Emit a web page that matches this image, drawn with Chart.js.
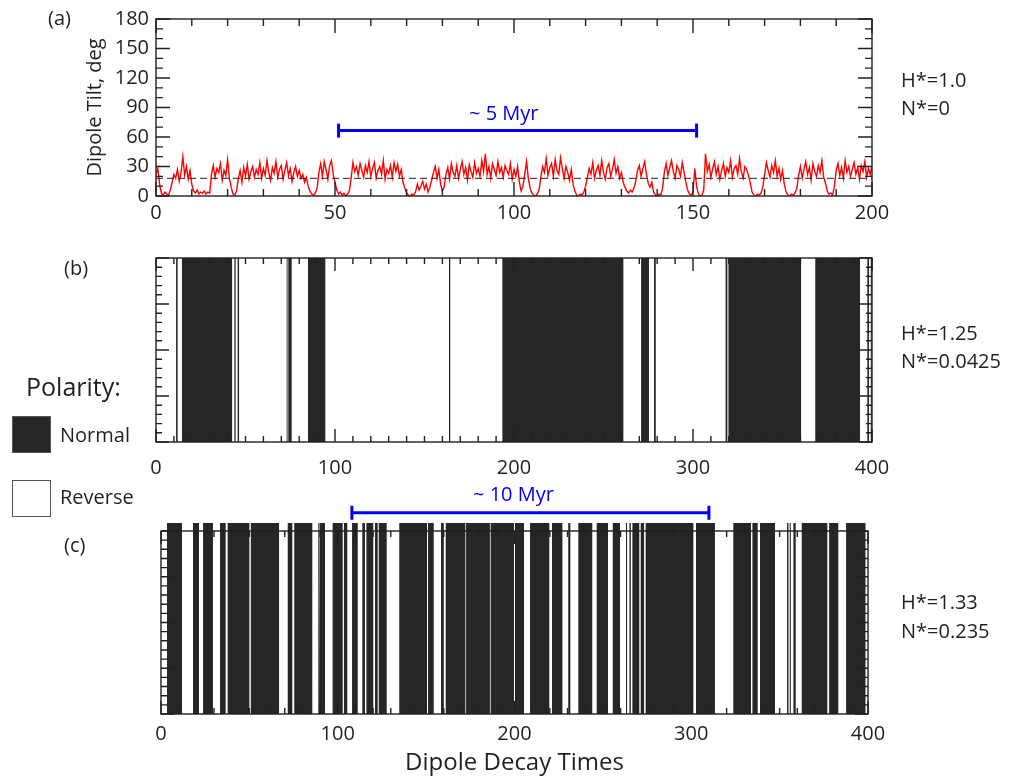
<!DOCTYPE html>
<html>
<head>
<meta charset="utf-8">
<script src="https://cdn.jsdelivr.net/npm/chart.js@4.4.1/dist/chart.umd.min.js"></script>
<style>
  body { margin: 0; background: #fff; }
  #fig { position: relative; width: 1013px; height: 782px; font-family: 'Open Sans', sans-serif; color: #231f20; overflow: hidden; }
  #fig canvas { position: absolute; left: 0; }
  .lbl { position: absolute; white-space: nowrap; line-height: 1; transform: translateY(-50%); }
  .swatch { position: absolute; width: 37px; height: 35px; border: 1px solid #555; }
</style>
</head>
<body>
<div id="fig">
  <canvas id="tiltChart" width="1013" height="235" style="top:0"></canvas>
  <canvas id="polarityB" width="1013" height="245" style="top:235px"></canvas>
  <canvas id="polarityC" width="1013" height="302" style="top:480px"></canvas>

  <div class="lbl" style="left:48px; top:18px; font-size:20px">(a)</div>
  <div class="lbl" style="left:64px; top:268px; font-size:20px">(b)</div>
  <div class="lbl" style="left:64px; top:545px; font-size:20px">(c)</div>

  <div class="lbl" style="left:901px; top:80px; font-size:20px">H*=1.0</div>
  <div class="lbl" style="left:901px; top:108px; font-size:20px">N*=0</div>
  <div class="lbl" style="left:901px; top:333px; font-size:20px">H*=1.25</div>
  <div class="lbl" style="left:901px; top:361px; font-size:20px">N*=0.0425</div>
  <div class="lbl" style="left:901px; top:602px; font-size:20px">H*=1.33</div>
  <div class="lbl" style="left:901px; top:631px; font-size:20px">N*=0.235</div>

  <div class="lbl" style="left:26px; top:386px; font-size:25px">Polarity:</div>
  <div class="swatch" style="left:12px; top:416px; background:#262626"></div>
  <div class="lbl" style="left:60px; top:435px; font-size:20px">Normal</div>
  <div class="swatch" style="left:12px; top:480px; background:#fff"></div>
  <div class="lbl" style="left:60px; top:497px; font-size:20px">Reverse</div>

  <div class="lbl" style="left:469px; top:113px; font-size:20px; color:#0000f0">~ 5 Myr</div>
  <div class="lbl" style="left:473px; top:494px; font-size:20px; color:#0000f0">~ 10 Myr</div>
</div>

<script>
// (a) dipole tilt, sampled every half decay time from 0 to 200
const tiltStep = 0.5;
const tiltValues = [
  22, 28, 12, 3, 1, 4, 2, 1, 6, 14, 22, 18, 27, 15, 24, 40, 21, 30, 17, 26,
  12, 5, 3, 6, 2, 4, 3, 5, 2, 4, 3, 22, 31, 19, 28, 24, 33, 16, 26, 21,
  37, 18, 9, 2, 1, 5, 18, 26, 14, 29, 20, 32, 17, 25, 30, 19, 27, 22, 34, 18,
  28, 21, 36, 24, 16, 29, 23, 35, 19, 27, 31, 17, 26, 34, 21, 28, 15, 24, 30, 20,
  26, 18, 22, 14, 19, 10, 5, 2, 1, 3, 8, 24, 33, 20, 35, 27, 17, 31, 36, 22,
  14, 6, 2, 4, 1, 3, 0, 2, 5, 18, 34, 25, 30, 21, 33, 26, 19, 31, 24, 35,
  20, 28, 34, 18, 26, 30, 22, 36, 17, 27, 23, 31, 19, 34, 25, 32, 20, 27, 14, 8,
  3, 1, 0, 2, 1, 4, 12, 6, 10, 15, 7, 12, 4, 9, 16, 24, 30, 18, 27, 12,
  5, 9, 22, 29, 17, 33, 24, 20, 31, 18, 27, 35, 22, 29, 16, 32, 25, 19, 34, 23,
  28, 20, 36, 25, 43, 22, 30, 18, 33, 27, 21, 35, 24, 29, 19, 31, 26, 22, 33, 17,
  27, 20, 30, 14, 5, 10, 22, 35, 18, 8, 3, 1, 0, 2, 6, 19, 30, 24, 38, 21,
  29, 33, 20, 37, 26, 22, 39, 28, 18, 30, 24, 16, 27, 12, 5, 1, 0, 2, 1, 4,
  10, 19, 28, 22, 34, 18, 26, 31, 21, 36, 24, 17, 29, 33, 20, 27, 37, 23, 30, 18,
  24, 14, 9, 5, 3, 6, 4, 8, 15, 26, 31, 20, 28, 35, 22, 13, 9, 14, 4, 1,
  0, 2, 1, 8, 24, 33, 21, 29, 36, 25, 18, 31, 27, 20, 34, 24, 14, 6, 2, 1,
  4, 28, 10, 2, 0, 1, 6, 43, 25, 32, 19, 28, 35, 22, 30, 17, 26, 33, 20, 29,
  24, 36, 19, 28, 31, 22, 38, 25, 18, 30, 27, 21, 13, 4, 1, 0, 2, 1, 3, 9,
  22, 34, 26, 19, 31, 24, 36, 20, 28, 17, 26, 12, 4, 1, 0, 2, 1, 3, 8, 21,
  30, 18, 27, 35, 22, 29, 16, 33, 25, 20, 31, 24, 36, 19, 13, 5, 2, 3, 1, 10,
  26, 33, 21, 29, 18, 36, 24, 30, 20, 27, 34, 22, 29, 17, 31, 25, 35, 19, 28, 22, 30
];
const tiltMean = 18;
const tiltTicksX = [0, 50, 100, 150, 200];
const tiltTicksY = [0, 30, 60, 90, 120, 150, 180];
const spanA = [51, 151];   // ~5 Myr
const spanALevel = 66.5;

// (b), (c) normal polarity intervals, in dipole decay times
const polarityB = [
  [11.2, 12.1], [14.5, 42.5], [43.8, 44.5], [45.6, 46.4], [73.0, 73.5], [73.9, 75.8],
  [84.9, 94.6], [163.7, 164.4], [193.5, 261.1], [271.0, 275.4], [278.2, 279.2],
  [318.2, 319.2], [319.8, 360.4], [367.6, 368.0], [368.3, 393.3], [397.4, 398.3], [399.3, 399.9]
];
const polarityC = [
  [3.4, 11.9], [18.1, 21.5], [23.8, 29.4], [33.4, 36.6], [37.7, 50.0], [50.8, 66.8],
  [71.7, 74.3], [75.4, 85.6], [89.0, 89.4], [89.8, 92.8], [97.1, 102.8], [103.5, 105.4],
  [108.1, 111.3], [113.9, 115.4], [116.2, 120.1], [121.1, 122.6], [123.2, 127.7],
  [134.8, 150.5], [151.1, 154.3], [158.4, 160.0], [161.1, 172.2], [172.6, 186.1],
  [186.5, 199.7], [200.3, 205.4], [208.8, 219.7], [221.2, 227.1], [230.4, 231.6],
  [236.1, 244.0], [246.5, 252.9], [255.6, 259.7], [263.1, 263.7], [265.0, 265.8],
  [266.7, 270.6], [271.4, 273.3], [274.2, 301.2], [302.7, 313.4], [323.8, 333.8],
  [334.6, 337.6], [338.9, 347.4], [354.2, 355.0], [355.7, 356.3], [357.8, 359.1],
  [362.5, 377.0], [378.0, 383.2], [387.6, 398.7]
];
const polarityTicksX = [0, 100, 200, 300, 400];
const barTopC = 1.044;      // bars in (c) poke out above the frame
const spanC = [108, 310];   // ~10 Myr
const spanCLevel = 1.1;

const ink = '#231f20';
const barColor = '#262626';
const blue = '#0000f0';

Chart.defaults.font.family = "'Open Sans', sans-serif";
Chart.defaults.color = ink;

// IDL style box: frame on all four sides, ticks pointing inward
const frameTicks = {
  id: 'frameTicks',
  afterDatasetsDraw(chart, args, o) {
    const { ctx, chartArea: a, scales: { x, y } } = chart;
    const top = o.frameTop != null ? y.getPixelForValue(o.frameTop) : a.top;
    const bottom = y.getPixelForValue(0);
    const isMajor = (v, step) => Math.abs(v / step - Math.round(v / step)) < 1e-6;

    ctx.save();
    ctx.strokeStyle = ink;
    ctx.lineWidth = 1.4;
    ctx.beginPath();
    const nx = Math.round((x.max - x.min) / o.xMinor);
    for (let k = 0; k <= nx; k++) {
      const v = x.min + k * o.xMinor;
      const px = x.getPixelForValue(v);
      const len = isMajor(v, o.xMajor) ? o.majorLen : o.minorLen;
      ctx.moveTo(px, bottom); ctx.lineTo(px, bottom - len);
      ctx.moveTo(px, top); ctx.lineTo(px, top + len);
    }
    const ny = Math.round(o.yTop / o.yMinor);
    for (let k = 0; k <= ny; k++) {
      const v = k * o.yMinor;
      const py = y.getPixelForValue(v);
      const len = isMajor(v, o.yMajor) ? o.majorLen : o.minorLen;
      ctx.moveTo(a.left, py); ctx.lineTo(a.left + len, py);
      ctx.moveTo(a.right, py); ctx.lineTo(a.right - len, py);
    }
    ctx.stroke();
    ctx.strokeRect(a.left, top, a.right - a.left, bottom - top);
    ctx.restore();
  }
};

function polarityPoints(intervals, top) {
  const pts = [];
  intervals.forEach(([a, b]) => {
    pts.push({ x: a, y: 0 }, { x: a, y: top }, { x: b, y: top }, { x: b, y: 0 });
  });
  return pts;
}

function spanDataset(span, level) {
  return {
    data: span.map(v => ({ x: v, y: level })),
    borderColor: blue,
    borderWidth: 3,
    pointStyle: 'line',
    rotation: 90,
    pointRadius: 7,
    pointBorderWidth: 3,
    pointBorderColor: blue,
    order: 0
  };
}

function xTickAxis(max, step, pad, height, title) {
  return {
    type: 'linear', min: 0, max: max,
    grid: { display: false, drawTicks: false },
    border: { display: false },
    afterBuildTicks: s => { s.ticks = (max === 200 ? tiltTicksX : polarityTicksX).map(v => ({ value: v })); },
    ticks: { stepSize: step, padding: pad, maxRotation: 0, autoSkip: false, font: { size: 20 } },
    title: title ? { display: true, text: title, font: { size: 24 }, padding: { top: 0, bottom: 4 } } : { display: false },
    afterFit: s => { s.height = height; }
  };
}

const common = {
  responsive: false,
  animation: false,
  events: [],
  plugins: { legend: { display: false }, tooltip: { enabled: false } }
};

// (a)
new Chart(document.getElementById('tiltChart'), {
  type: 'line',
  data: {
    datasets: [
      {
        data: tiltValues.map((v, i) => ({ x: i * tiltStep, y: v })),
        borderColor: '#ff0000',
        borderWidth: 1.4,
        pointRadius: 0,
        order: 2
      },
      {
        data: [{ x: 0, y: tiltMean }, { x: 200, y: tiltMean }],
        borderColor: ink,
        borderWidth: 1,
        borderDash: [7, 4],
        pointRadius: 0,
        order: 1
      },
      spanDataset(spanA, spanALevel)
    ]
  },
  options: {
    ...common,
    layout: { padding: { left: 79, right: 141, top: 12, bottom: 9 } },
    scales: {
      x: xTickAxis(200, 50, 5, 30),
      y: {
        type: 'linear', min: 0, max: 180,
        grid: { display: false, drawTicks: false },
        border: { display: false },
        afterBuildTicks: s => { s.ticks = tiltTicksY.map(v => ({ value: v })); },
        ticks: { padding: 7, font: { size: 20 } },
        title: { display: true, text: 'Dipole Tilt, deg', font: { size: 20 } },
        afterFit: s => { s.width = 77; }
      }
    },
    plugins: {
      ...common.plugins,
      frameTicks: { xMinor: 10, xMajor: 50, yMinor: 10, yMajor: 30, yTop: 180, minorLen: 7, majorLen: 14 }
    }
  },
  plugins: [frameTicks]
});

// (b)
new Chart(document.getElementById('polarityB'), {
  type: 'line',
  data: {
    datasets: [{
      data: polarityPoints(polarityB, 1),
      borderColor: 'transparent',
      borderWidth: 0,
      backgroundColor: barColor,
      fill: 'origin',
      pointRadius: 0
    }]
  },
  options: {
    ...common,
    layout: { padding: { left: 156, right: 141, top: 23, bottom: 0 } },
    scales: {
      x: xTickAxis(400, 100, 14, 38),
      y: { type: 'linear', min: 0, max: 1, display: false }
    },
    plugins: {
      ...common.plugins,
      frameTicks: { xMinor: 10, xMajor: 100, yMinor: 0.05, yMajor: 0.25, yTop: 1, minorLen: 6, majorLen: 13 }
    }
  },
  plugins: [frameTicks]
});

// (c)
new Chart(document.getElementById('polarityC'), {
  type: 'line',
  data: {
    datasets: [
      {
        data: polarityPoints(polarityC, barTopC),
        borderColor: 'transparent',
        borderWidth: 0,
        backgroundColor: barColor,
        fill: 'origin',
        pointRadius: 0,
        order: 1
      },
      spanDataset(spanC, spanCLevel)
    ]
  },
  options: {
    ...common,
    layout: { padding: { left: 161, right: 145, top: 14.4, bottom: 0 } },
    scales: {
      x: xTickAxis(400, 100, 8, 68, 'Dipole Decay Times'),
      y: { type: 'linear', min: 0, max: 1.2, display: false }
    },
    plugins: {
      ...common.plugins,
      frameTicks: { xMinor: 10, xMajor: 100, yMinor: 0.05, yMajor: 0.25, yTop: 1, frameTop: 1, minorLen: 6, majorLen: 13 }
    }
  },
  plugins: [frameTicks]
});
</script>
</body>
</html>
